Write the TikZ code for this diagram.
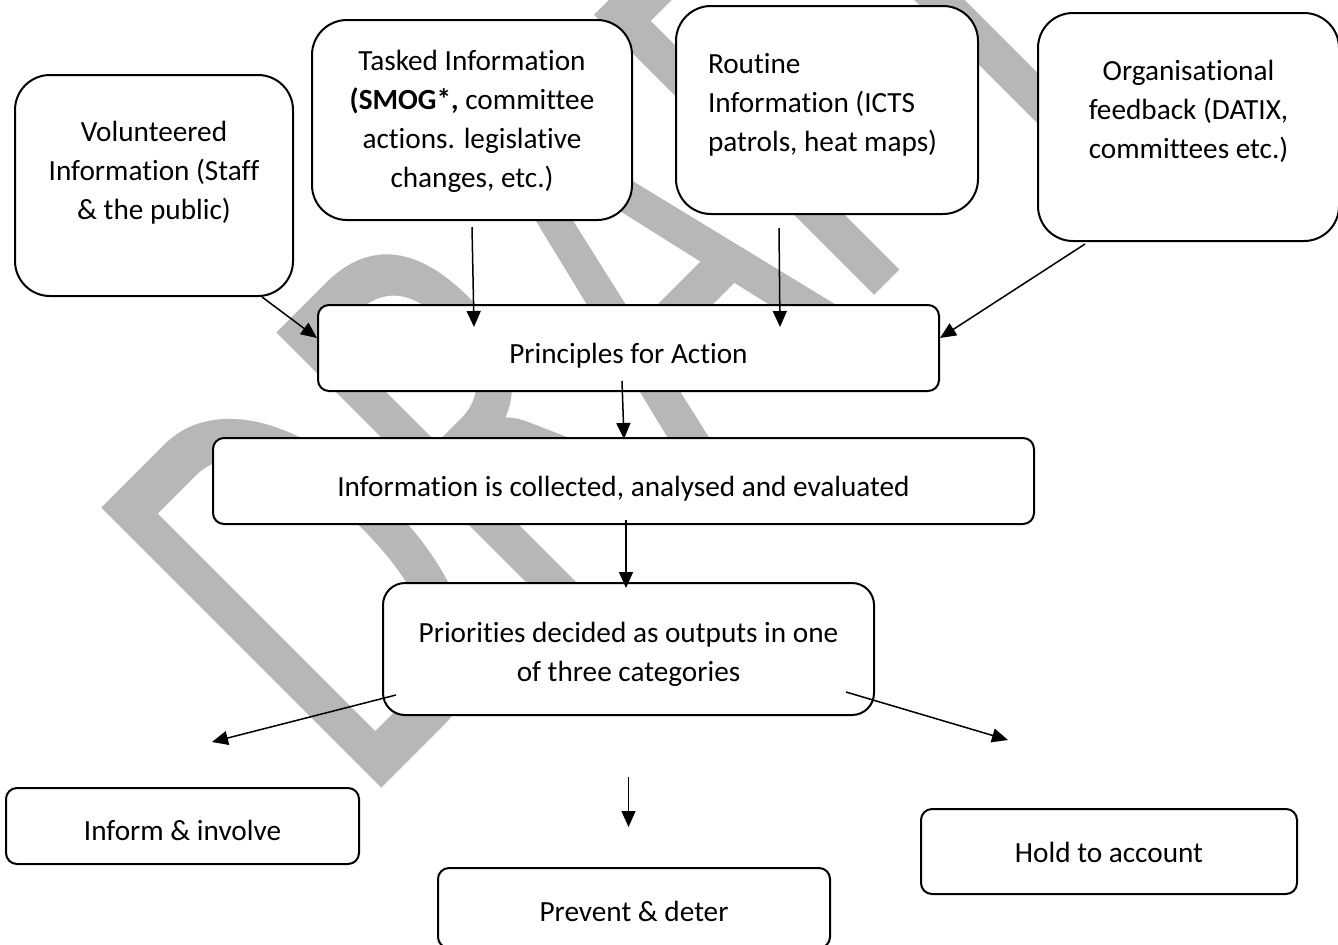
\documentclass[tikz,border=0pt]{standalone}
\usepackage{fontspec}
\setmainfont{Carlito}[Ligatures=NoCommon]
\usepackage{graphicx}
\usetikzlibrary{positioning,arrows.meta}
\definecolor{MarkGrey}{RGB}{183,183,183}
\tikzset{
  flow/.style={-{Triangle[length=6.4pt,width=5.6pt]},line width=0.6pt},
  sourcebox/.style={draw,fill=white,line width=0.8pt,rounded corners=14pt,
    align=center,font=\fontsize{11.7pt}{15.6pt}\selectfont},
  stepbox/.style={draw,fill=white,line width=0.8pt,rounded corners=4.4pt,
    align=center,font=\fontsize{11.7pt}{15.6pt}\selectfont,
    text height=13pt,text depth=0.8pt},
  watermark/.style={text=MarkGrey,inner sep=0pt,
    font=\fontsize{247pt}{247pt}\selectfont}
}

\begin{document}
\begin{tikzpicture}
  \useasboundingbox (0,0) rectangle (535.2pt,-377.6pt);
  \node[watermark,anchor=base west,rotate=45] (draft) at (144.8pt,-323.2pt) {\scalebox{0.65}[1]{DRAFT}};
  % main chain
  \node[stepbox,minimum width=248.4pt,minimum height=34.4pt] (principles) at (251.4pt,-139.2pt) {Principles for Action};
  \node[stepbox,below=18pt of principles,xshift=-2pt,minimum width=328.4pt,minimum height=34.4pt] (collect) {Information is collected, analysed and evaluated};
  \node[sourcebox,below=22.8pt of collect,xshift=2pt,rounded corners=8.8pt,minimum width=196.4pt,minimum height=52.8pt] (priorities) {\rule{0pt}{12.5pt}Priorities decided as outputs in one\\of three categories};
  % sources
  \node[sourcebox,above=33.2pt of principles,xshift=-62.6pt,minimum width=128pt,minimum height=80pt] (tasked) {Tasked Information\\\textbf{(SMOG*,} committee\\actions. legislative\\changes, etc.)\\[-14.6pt]};
  \node[sourcebox,left=6.8pt of tasked,yshift=-26.2pt,minimum width=111.2pt,minimum height=88.4pt] (volunteered) {Volunteered\\Information (Staff\\\& the public)\\[-3.7pt]};
  \node[sourcebox,right=16.8pt of tasked,yshift=4pt,align=left,minimum width=120.8pt,minimum height=83.2pt] (routine) {Routine\\Information (ICTS\\\makebox[95.2pt][l]{patrols, heat maps)}\\[-9.2pt]};
  \node[sourcebox,right=23.2pt of routine,yshift=-6.8pt,minimum width=120.4pt,minimum height=91.2pt] (feedback) {Organisational\\feedback (DATIX,\\committees etc.)\\[-1.2pt]};
  % outputs
  \node[stepbox,below=60.4pt of priorities,xshift=2.2pt,minimum width=156.8pt,minimum height=32pt,text height=11.2pt] (prevent) {Prevent \& deter};
  \node[stepbox,left=30.8pt of prevent,yshift=32.8pt,minimum width=141.2pt,minimum height=30.4pt,text height=12.2pt] (inform) {Inform \& involve};
  \node[stepbox,right=35.6pt of prevent,yshift=22.6pt,minimum width=150.4pt,minimum height=34pt,text height=9.8pt] (hold) {Hold to account};

  \draw[flow] ([xshift=-12.8pt]volunteered.south east) -- ([yshift=4pt]principles.west);
  \draw[flow] ([yshift=-2.4pt]tasked.south) -- ([xshift=0.8pt,yshift=-9.2pt]tasked.south |- principles.north);
  \draw[flow] ([xshift=-19.2pt,yshift=-5.2pt]routine.south) -- ([xshift=-18.8pt,yshift=-9.2pt]routine.south |- principles.north);
  \draw[flow] ([xshift=19.2pt,yshift=-0.8pt]feedback.south west) -- ([yshift=4pt]principles.east);
  \draw[flow] ([xshift=-2.6pt,yshift=4.4pt]principles.south) -- ([xshift=-1.8pt,yshift=-0.8pt]principles.south |- collect.north);
  \draw[flow] ([xshift=1pt,yshift=2pt]collect.south) -- ([xshift=1pt,yshift=-2.4pt]collect.south |- priorities.north);
  \draw[flow] ([xshift=5.6pt,yshift=8.4pt]priorities.south west) -- ([xshift=11.8pt,yshift=18pt]inform.north);
  \draw[flow] ([yshift=-24.4pt]priorities.south) -- ([yshift=16pt]priorities.south |- prevent.north);
  \draw[flow] ([xshift=-11.6pt,yshift=9.6pt]priorities.south east) -- ([xshift=-40.4pt,yshift=27.2pt]hold.north);
\end{tikzpicture}
\end{document}
